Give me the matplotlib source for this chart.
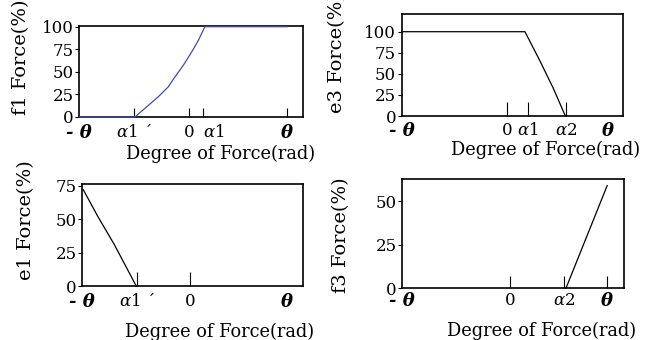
import matplotlib
matplotlib.use('Agg')
import matplotlib.pyplot as plt

plt.rcParams['font.family'] = 'DejaVu Serif'
plt.rcParams['mathtext.fontset'] = 'dejavuserif'
plt.rcParams['font.size'] = 12

# f1 (top left)
f1_x = [-1.12, -0.551, -0.449, -0.313, -0.211, -0.143, -0.058, 0.027, 0.095, 0.163, 1.0]
f1_y = [0, 0, 9.5, 22.3, 33.3, 44.3, 57.1, 71.8, 84.6, 100, 100]
f1_ticks = [-1.12, -0.56, 0.0, 0.146, 1.0]
f1_labels = ['- θ', r'$\alpha$1 ´', '0', r'$\alpha$1', 'θ']

# e3 (top right)
e3_x = [-1.04, 0.18, 0.33, 0.46, 0.58]
e3_y = [100, 100, 65, 33, 0]
e3_ticks = [-1.04, 0.0, 0.208, 0.584, 1.0]
e3_labels = ['- θ', '0', r'$\alpha$1', r'$\alpha$2', 'θ']

# e1 (bottom left)
e1_x = [-1.10, -0.95, -0.78, -0.554]
e1_y = [72, 52, 31, 0]
e1_ticks = [-1.11, -0.55, 0.0, 1.0]
e1_labels = ['- θ', r'$\alpha$1 ´', '0', 'θ']

# f3 (bottom right)
f3_x = [0.578, 1.006]
f3_y = [0, 59]
f3_ticks = [-1.12, 0.0, 0.56, 1.0]
f3_labels = ['- θ', '0', r'$\alpha$2', 'θ']

fig = plt.figure(figsize=(6.52, 3.4), dpi=100)

panels = [
    # rect, x, y, color, ticks, labels, marked ticks, xlim, ylim, yticks, ylabel, ticklen, pad, ylabel pos, xlabel pos
    ([0.1212, 0.6559, 0.3435, 0.2676], f1_x, f1_y, '#3f4db3', f1_ticks, f1_labels, [1, 2, 3, 4],
     (-1.12, 1.163), (0, 100.8), [0, 25, 50, 75, 100], 'f1 Force(%)', 6.5, 5, (-0.219, 0.66), (0.63, -0.31)),
    ([0.6160, 0.6588, 0.3395, 0.3000], e3_x, e3_y, 'black', e3_ticks, e3_labels, [1, 2, 3],
     (-1.04, 1.15), (0, 121), [0, 25, 50, 75, 100], 'e3 Force(%)', 10, 4, (-0.252, 0.62), (0.652, -0.245)),
    ([0.1262, 0.1588, 0.3390, 0.2991], e1_x, e1_y, 'black', e1_ticks, e1_labels, [1, 2],
     (-1.11, 1.168), (0, 76), [0, 25, 50, 75], 'e1 Force(%)', 10, 5, (-0.214, 0.65), (0.62, -0.365)),
    ([0.6170, 0.1521, 0.3400, 0.3205], f3_x, f3_y, 'black', f3_ticks, f3_labels, [1, 2, 3],
     (-1.12, 1.18), (0, 62.6), [0, 25, 50], 'f3 Force(%)', 9, 3, (-0.236, 0.49), (0.628, -0.31)),
]

for (rect, x, y, color, ticks, labels, marked, xlim, ylim, yticks, ylabel, tlen, pad, ylpos, xlpos) in panels:
    ax = fig.add_axes(rect)
    ax.plot(x, y, color=color, lw=0.9, clip_on=False, zorder=3)
    ax.set_xlim(xlim)
    ax.set_ylim(ylim)
    ax.set_yticks(yticks)
    ax.set_xticks(ticks)
    ax.set_xticklabels(labels)
    ax.tick_params(axis='x', direction='in', length=tlen, width=0.8, pad=pad)
    ax.tick_params(axis='y', direction='out', length=3, width=0.8, pad=1)
    for i, t in enumerate(ax.xaxis.get_major_ticks()):
        if i not in marked:
            t.tick1line.set_visible(False)
    for lab in ax.get_xticklabels():
        txt = lab.get_text()
        if 'θ' in txt:
            lab.set_fontweight('bold')
            lab.set_fontstyle('italic')
            lab.set_fontsize(13)
        if txt == r'$\alpha$1' and ylabel.startswith('f1'):
            lab.set_horizontalalignment('left')
    for s in ax.spines.values():
        s.set_linewidth(1.2)
    ax.set_ylabel(ylabel, fontsize=14)
    ax.yaxis.set_label_coords(*ylpos)
    ax.set_xlabel('Degree of Force(rad)', fontsize=12.8)
    ax.xaxis.set_label_coords(*xlpos)

fig.savefig('out.png', dpi=100)
